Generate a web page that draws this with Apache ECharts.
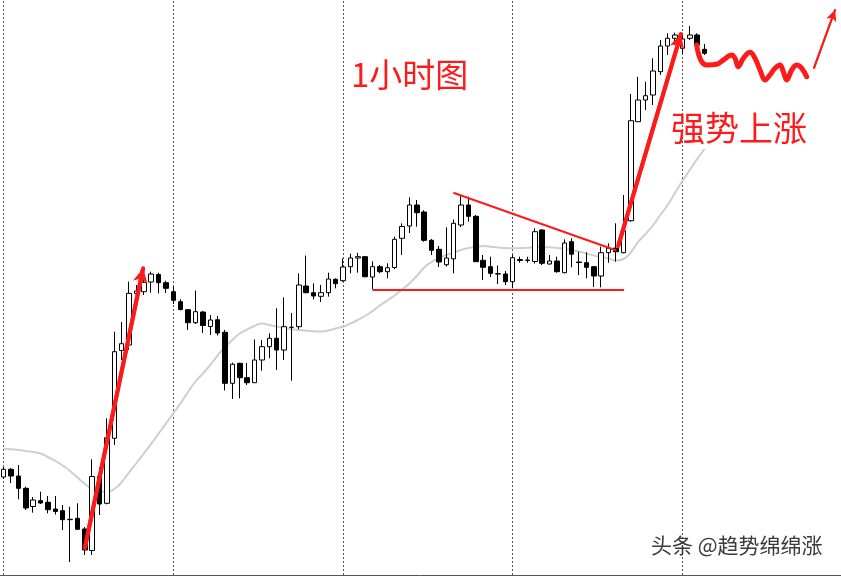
<!DOCTYPE html>
<html><head><meta charset="utf-8">
<script src="https://cdn.jsdelivr.net/npm/echarts@6/dist/echarts.min.js"></script>
<style>html,body{margin:0;padding:0;background:#fff}#c{width:841px;height:577px}</style>
</head><body><div id="c"></div>
<script>
// hourly candles: [open, close, low, high]
const ohlc = [
[100,107.7,98,110],[107.7,101,94,109],[101,88.7,77.7,112],[88.7,69,67,90.3],[70.5,77,64.3,80],
[76.3,74,73,85.3],[74.7,67.3,63.7,81],[68,65.5,62.5,81],[66.3,57.3,47,72],[57.7,57.3,15,70.3],
[58.7,47.7,47,73.7],[48,27,22,50],[26.5,100.5,22,117.7],[100.7,73,62,109.7],[73.7,139.3,72.7,158.7],
[138.7,225.3,132,245.3],[226.5,233.3,217,255],[232,283.7,227,295.3],[283.5,286,280.3,292],[285.3,294.7,282,308.7],
[295,303,284.3,305.3],[302.5,294.3,283.7,304.3],[294.3,288.7,284,296.3],[285.3,276.7,273,290.3],[275.3,267.5,266.5,277.7],
[267.3,254.3,247,268],[254.3,265.3,253,286.5],[265,251.5,244,266],[250.5,257,242,262],[257.3,244,241.5,261],
[244.7,193.7,186.5,247],[193.7,212.8,178,214.3],[213.7,199.3,178.7,214.3],[199.3,194.3,192,214],[194.3,217,194,237.5],
[217,230.3,206.3,237],[230.3,238.7,218.7,243.7],[238.7,227,207,268.7],[227,250.3,217,279.7],[249.7,249.7,196.3,264],
[250.3,292,247.7,303.7],[291,284.3,283.7,321.5],[284.3,281,277.7,293.7],[280.7,284.3,275,292],[284.3,298,280.3,304.3],
[297.7,293.3,288.7,298.7],[296.3,310,295.3,318.7],[310.3,319,303.7,323.3],[319,320.3,304.3,324.3],[320.3,300.3,299.7,321],
[300,310.3,287.5,315.7],[310.3,305.3,303.7,312],[305.3,309.3,298.7,313.7],[309.5,337.7,307.7,340.3],[338.7,350.5,322,353.7],
[351,372,344,379.7],[372,364.3,350.3,377],[365,336.7,335.3,366.7],[336.7,326.7,322,338],[327.7,315,310,331],
[312.3,319,310.5,349.7],[318.2,353.7,303.7,357.3],[352,372,350,381],[372,360.7,355.3,380.3],[360.7,315.3,315.3,362],
[316.7,309.7,297,322],[310.3,303.7,300,320.3],[303.3,303,293,311.5],[303,295.3,292,306],[295.3,319.3,288.7,322],
[316.5,317.5,314.3,320.3],[316.5,317,314.3,320.3],[315.5,345.3,313.5,348.7],[347,313.7,312,347.7],[313,316,312.5,322],
[316,305.3,304.3,320.3],[304.3,334,303.7,337.7],[335.3,322.8,309.7,338.7],[315,314.5,302,325.3],[314.3,309.7,298.7,324.7],
[310.3,301,290,311],[301,324.3,289.7,330.3],[324.3,328.7,314.3,333.7],[329,325.3,315.3,353.7],[324.3,346.3,323.7,382],
[356.3,456.3,355.3,483],[455.3,477,455.3,500.3],[477,481.3,467,495.3],[482,506,472,518.7],[505.3,531,502,537],
[531,538.7,522,543.7],[538.7,542,532,544.3],[528.7,538,523.7,543.7],[538.7,542,537,551],[542,532,525.3,543.7],
[527.7,523.7,522,533]
];
// grey moving average
const ma = [
128.5,127.7,127,126,125,123.5,120,116,111.5,106,
99.5,93,88,85.5,85.3,88,95,104.7,114,123.5,
133.2,143.4,153.6,163.7,174,185,195.5,203.5,212,221.5,
230,237,243.5,247.5,251,253.5,252,250.5,249,248,
247,246.3,245.8,245.4,246.5,248.5,250.3,253.5,257,261,
266,271.5,276.7,281.5,287.5,293.5,301,309.5,315,319,
322,324.5,327,329,330,331,330.3,329.5,329,328.7,
329,329.3,329.7,330,329.7,329,328,327,325.5,323.5,
321.5,320,318.5,316.5,318,324.5,335,343,351.5,362,
372,384,396,407,418,428
];
const slotCount = 114;
const categories = Array.from({length: slotCount}, (_, i) => String(i));
const sessionBreaks = [0, 23, 46, 69, 92];
// red hand-drawn annotations: [slot, price]
const rally1 = [[11.0, 29], [18.9, 308.7]];
const rally2 = [[83.3, 331], [91.8, 543]];
const resistance = [[60.95, 384.3], [83.07, 326.5]];
const support = [[50, 287], [84.1, 287]];
const wave = [[93.94,532],[94.16,523.7],[94.62,515.3],[95.3,512],[96.65,512.7],[97.55,517],[98.69,522],[99.13,518.7],
[99.58,510.3],[100.26,518.7],[101.17,524.7],[101.84,518.7],[102.52,507],[103.2,497],[103.87,502],[104.55,508.7],
[105.23,512],[105.68,505.3],[106.14,497],[106.82,507],[107.5,512],[108.18,508.7],[108.85,500.3]];
const projection = [[109.84, 509], [112.69, 567]];
const RED = '#ff1a1a';

const chart = echarts.init(document.getElementById('c'), null, {renderer: 'canvas'});
function arrowLine(name, pts, width, size) {
  return {
    name, type: 'line', xAxisIndex: 1, yAxisIndex: 0, data: pts, showSymbol: false, symbol: 'none',
    lineStyle: {color: RED, width: width, cap: 'round'}, z: 10, silent: true,
    markLine: {
      silent: true, symbol: ['none', 'arrow'], symbolSize: size, label: {show: false},
      lineStyle: {color: RED, width: width, type: 'solid'},
      data: [[{coord: pts[0]}, {coord: pts[1]}]], z: 10
    }
  };
}
chart.setOption({
  animation: false,
  backgroundColor: '#ffffff',
  grid: {left: 0, right: 0, top: 0, bottom: 2, containLabel: false},
  xAxis: [
    {type: 'category', data: categories, boundaryGap: true,
     axisLine: {show: true, lineStyle: {color: '#555', width: 1}}, axisTick: {show: false},
     axisLabel: {show: false}, splitLine: {show: false}},
    {type: 'value', min: -0.5, max: slotCount - 0.5, show: false}
  ],
  yAxis: {type: 'value', min: 2, max: 577, show: false, splitLine: {show: false}},
  series: [
    {
      name: 'sep', type: 'line', xAxisIndex: 1, yAxisIndex: 0, data: support, symbol: 'none',
      lineStyle: {color: RED, width: 2}, z: 9, silent: true,
      markLine: {silent: true, symbol: ['none', 'none'], label: {show: false},
        lineStyle: {color: '#555', width: 1, type: [2, 2]},
        data: sessionBreaks.map(v => ({xAxis: v})), z: 1}
    },
    {
      name: 'MA', type: 'line', data: ma, symbol: 'none', smooth: true, z: 2,
      lineStyle: {color: '#cfcfcf', width: 2}, silent: true
    },
    {
      name: 'H1', type: 'candlestick', data: ohlc, barWidth: 5, z: 5,
      itemStyle: {color: '#ffffff', color0: '#000000', borderColor: '#000000', borderColor0: '#000000', borderWidth: 1}
    },
    {
      name: 'resistance', type: 'line', xAxisIndex: 1, yAxisIndex: 0, data: resistance, symbol: 'none',
      lineStyle: {color: RED, width: 2}, z: 9, silent: true
    },
    arrowLine('rally1', rally1, 4, [11, 14]),
    arrowLine('rally2', rally2, 4, [11, 14]),
    {
      name: 'wave', type: 'line', xAxisIndex: 1, yAxisIndex: 0, data: wave, symbol: 'none', smooth: 0.4,
      lineStyle: {color: RED, width: 5, cap: 'round', join: 'round'}, z: 10, silent: true
    },
    arrowLine('projection', projection, 2, [8, 11])
  ],
  graphic: [
    {type: 'text', left: 351, top: 58, z: 20, style: {text: '1小时图', fill: RED, font: '33px "Noto Sans CJK SC"'}},
    {type: 'text', left: 671, top: 111, z: 20, style: {text: '强势上涨', fill: RED, font: '34px "Noto Sans CJK SC"'}},
    {type: 'text', left: 651, top: 535, z: 20, style: {text: '头条 @趋势绵绵涨', fill: '#3a3a3a', font: '21px "Noto Sans CJK SC"'}}
  ]
});
</script></body></html>
